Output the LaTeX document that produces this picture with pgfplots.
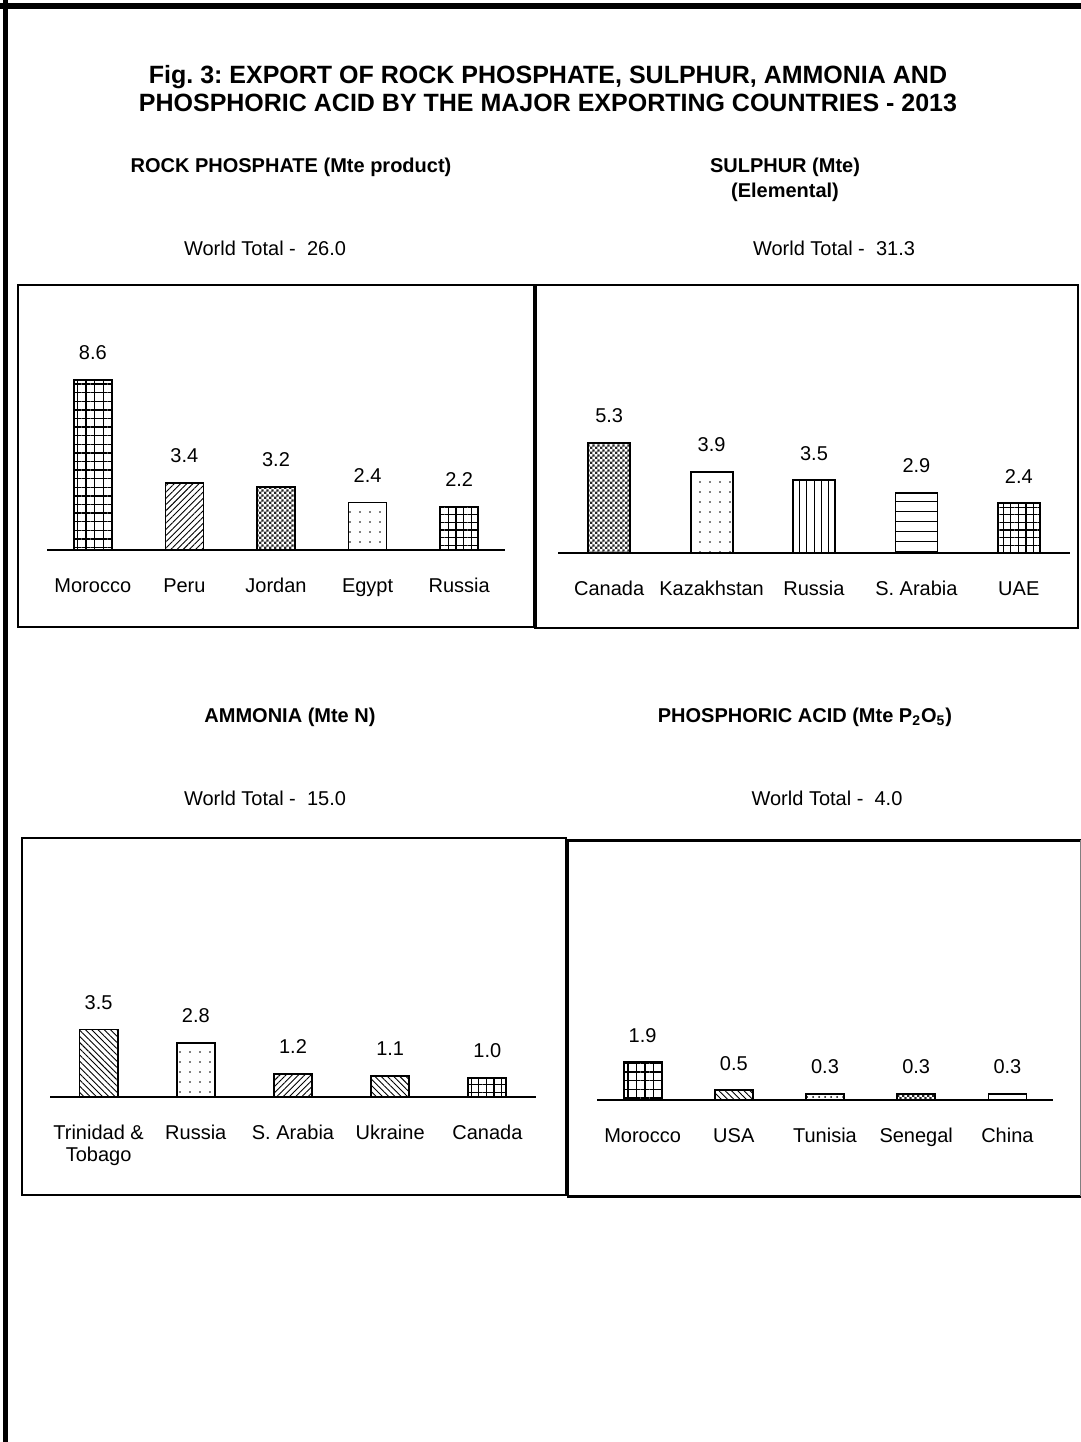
\documentclass[border=0pt]{standalone}
\usepackage{pgfplots}
\pgfplotsset{compat=1.18}
\usetikzlibrary{patterns,patterns.meta}
\usepackage{fontspec}
\setmainfont{Liberation Sans}
\frenchspacing
\newcommand\lbl{\fontsize{10}{11}\selectfont}
\newcommand\sub{\fontsize{10}{12}\selectfont\bfseries}
\pgfdeclarepatternformonly{finechk}{\pgfqpoint{0pt}{0pt}}{\pgfqpoint{2.4pt}{2.4pt}}{\pgfqpoint{2.4pt}{2.4pt}}{%
  \pgfpathrectangle{\pgfqpoint{0pt}{0pt}}{\pgfqpoint{1.2pt}{1.2pt}}%
  \pgfpathrectangle{\pgfqpoint{1.2pt}{1.2pt}}{\pgfqpoint{1.2pt}{1.2pt}}%
  \pgfusepath{fill}}
\pgfplotsset{
  panel/.style={
    scale only axis, anchor=south west, clip=false,
    xmin=-0.5, xmax=4.5, ymin=0, ymax=10,
    axis x line=bottom, axis y line=none,
    x axis line style={-, line width=0.6pt},
    xtick={0,1,2,3,4}, major tick length=0pt, ytick=\empty,
    xticklabel style={font=\lbl, inner sep=0pt, anchor=north, yshift=-14pt, align=center},
    ybar, bar shift=0pt,
    nodes near coords,
    nodes near coords style={font=\lbl, inner sep=0pt, anchor=south, yshift=9.5pt, black},
    /pgf/number format/fixed, /pgf/number format/fixed zerofill,
    /pgf/number format/precision=1, /pgf/number format/assume math mode=true,
    every axis plot/.append style={draw=black, line width=0.9pt},
  },
  gridA/.style={pattern={Hatch[angle=0,distance=4.3pt,line width=0.7pt]}},
  gridB/.style={pattern={Hatch[angle=0,distance=3.8pt,line width=0.6pt]}},
  ne/.style={pattern={Lines[angle=45,distance=2.2pt,line width=0.45pt]}},
  nw/.style={pattern={Lines[angle=-45,distance=2.2pt,line width=0.45pt]}},
  chk/.style={pattern=finechk, pattern color=black!85},
  dts/.style={pattern={Dots[distance=5pt,radius=0.45pt]}},
  vl/.style={pattern={Lines[angle=90,distance=3.7pt,line width=0.5pt]}},
  hl/.style={pattern={Lines[angle=0,distance=5pt,line width=0.5pt]}},
}
\begin{document}
\begin{tikzpicture}
\useasboundingbox (0,0) rectangle (540.5pt,-721pt);
\begin{scope}[x=0.5pt,y=-0.5pt]
  % outer frame
  \draw[line width=3pt] (0,6) -- (1081,6);
  \draw[line width=2.8pt] (5.5,0) -- (5.5,1442);
  % title
  \node[font=\fontsize{12.5}{13}\selectfont\bfseries] at (548,77) {Fig. 3: EXPORT OF ROCK PHOSPHATE, SULPHUR, AMMONIA AND};
  \node[font=\fontsize{12.5}{13}\selectfont\bfseries] at (548,103) {PHOSPHORIC ACID BY THE MAJOR EXPORTING COUNTRIES - 2013};
  % subtitles
  \node[font=\sub] at (291,167) {ROCK PHOSPHATE (Mte product)};
  \node[font=\sub] at (785,167) {SULPHUR (Mte)};
  \node[font=\sub] at (785,192) {(Elemental)};
  \node[font=\lbl] at (265,248) {World Total - \ 26.0};
  \node[font=\lbl] at (834,248) {World Total - \ 31.3};
  \node[font=\sub] at (290,717) {AMMONIA (Mte N)};
  \node[font=\sub] at (805,717) {PHOSPHORIC ACID (Mte P\textsubscript{2}O\textsubscript{5})};
  \node[font=\lbl] at (265,798) {World Total - \ 15.0};
  \node[font=\lbl] at (827,798) {World Total - \ 4.0};
  % boxes
  \draw[line width=1pt] (18,285) rectangle (534,627);
  \draw[line width=1pt] (535,285) rectangle (1078,628);
  \draw[line width=2pt] (535,285) -- (535,628);
  \draw[line width=1pt] (22,838) rectangle (566,1195);
  \draw[line width=1.5pt] (567,840) -- (1081,840);
  \draw[line width=1.5pt] (567,1196) -- (1081,1196);
  \draw[line width=2pt] (567,840) -- (567,1196);
  \draw[line width=0.5pt, gray] (1080,840) -- (1080,1196);
\end{scope}

% Panel 1: Rock phosphate
\begin{axis}[panel, at={(23.5pt,-275pt)}, width=229pt, height=98.85pt, bar width=19pt,
  xticklabels={Morocco,Peru,Jordan,Egypt,Russia}]
  \addplot[gridA] coordinates {(0,8.6)};
  \addplot[ne] coordinates {(1,3.4)};
  \addplot[chk] coordinates {(2,3.2)};
  \addplot[dts] coordinates {(3,2.4)};
  \addplot[gridB] coordinates {(4,2.2)};
\end{axis}

% Panel 2: Sulphur
\begin{axis}[panel, at={(279pt,-276.5pt)}, width=256pt, height=103.75pt, bar width=21pt,
  xticklabels={Canada,Kazakhstan,Russia,S. Arabia,UAE}]
  \addplot[chk] coordinates {(0,5.3)};
  \addplot[dts] coordinates {(1,3.9)};
  \addplot[vl] coordinates {(2,3.5)};
  \addplot[hl] coordinates {(3,2.9)};
  \addplot[gridB] coordinates {(4,2.4)};
\end{axis}

% Panel 3: Ammonia
\begin{axis}[panel, at={(25pt,-548.5pt)}, width=243pt, height=96.5pt, bar width=19pt,
  xticklabels={{Trinidad \&\\Tobago},Russia,S. Arabia,Ukraine,Canada}]
  \addplot[nw] coordinates {(0,3.5)};
  \addplot[dts] coordinates {(1,2.8)};
  \addplot[ne] coordinates {(2,1.2)};
  \addplot[nw] coordinates {(3,1.1)};
  \addplot[gridB] coordinates {(4,1.0)};
\end{axis}

% Panel 4: Phosphoric acid
\begin{axis}[panel, at={(298.5pt,-550pt)}, width=228pt, height=99pt, bar width=19pt,
  xticklabels={Morocco,USA,Tunisia,Senegal,China}]
  \addplot[gridA] coordinates {(0,1.9)};
  \addplot[nw] coordinates {(1,0.5)};
  \addplot[pattern=crosshatch dots] coordinates {(2,0.3)};
  \addplot[chk] coordinates {(3,0.3)};
  \addplot[hl] coordinates {(4,0.3)};
\end{axis}
\end{tikzpicture}
\end{document}
